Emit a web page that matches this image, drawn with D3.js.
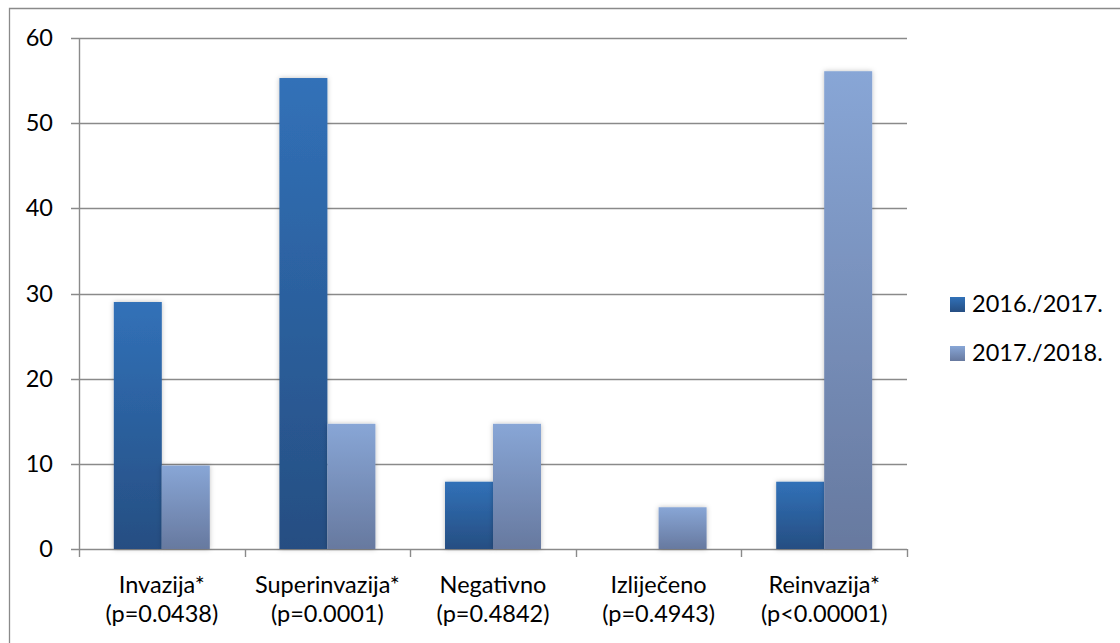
<!DOCTYPE html>
<html><head><meta charset="utf-8">
<script src="https://cdn.jsdelivr.net/npm/d3@7"></script>
<style>body{margin:0;background:#fff;} svg{display:block;font-family:Lato,"Open Sans",sans-serif;}</style>
</head><body>
<svg id="c" width="1120" height="643"></svg>
<script>
const categories = ["Invazija*", "Superinvazija*", "Negativno", "Izliječeno", "Reinvazija*"];
const pvalues = ["(p=0.0438)", "(p=0.0001)", "(p=0.4842)", "(p=0.4943)", "(p<0.00001)"];
const seriesNames = ["2016./2017.", "2017./2018."];
const s2016 = [29.0, 55.3, 7.9, 0, 7.9];
const s2017 = [9.8, 14.7, 14.7, 4.9, 56.1];
const yTicks = [0, 10, 20, 30, 40, 50, 60];

const svg = d3.select("#c");
const W = 1120, H = 643;
const m = {left: 79, right: 907, top: 38, bottom: 549};
const FS = 23.5;

// outer border
svg.append("path").attr("d", `M9.5,${H+2} V8.5 H${W+2}`).attr("fill","none").attr("stroke","#8a8a8a").attr("stroke-width",1.3);

const defs = svg.append("defs");
const grads = [["g0","#3171b8","#264e82"],["g1","#88a6d6","#67799f"]];
grads.forEach(([id,a,b])=>{
  const g = defs.append("linearGradient").attr("id",id).attr("x1",0).attr("y1",0).attr("x2",0).attr("y2",1);
  g.append("stop").attr("offset","0%").attr("stop-color",a);
  g.append("stop").attr("offset","100%").attr("stop-color",b);
});
const f = defs.append("filter").attr("id","sh").attr("x","-30%").attr("y","-10%").attr("width","160%").attr("height","120%");
f.append("feDropShadow").attr("dx",0).attr("dy",0).attr("stdDeviation",2.5).attr("flood-color","#000").attr("flood-opacity",0.25);

const x = d3.scaleBand().domain(categories).range([m.left, m.right]).paddingInner(0).paddingOuter(0);
const y = d3.scaleLinear().domain([0,60]).range([m.bottom, m.top]);
const xs = d3.scaleBand().domain([0,1]).range([0, x.bandwidth()]).paddingInner(0).paddingOuter(0.725);

// gridlines
svg.append("g").selectAll("line").data(yTicks).join("line")
  .attr("x1", m.left-8).attr("x2", m.right)
  .attr("y1", d=>Math.round(y(d))+0.5).attr("y2", d=>Math.round(y(d))+0.5)
  .attr("stroke","#8a8a8a").attr("stroke-width",1.4);

// y axis line
svg.append("line").attr("x1",m.left+0.5).attr("x2",m.left+0.5).attr("y1",m.top).attr("y2",m.bottom)
  .attr("stroke","#8a8a8a").attr("stroke-width",1.4);

// x ticks
const bounds = categories.map(c=>x(c)).concat([m.right]);
svg.append("g").selectAll("line").data(bounds).join("line")
  .attr("x1",d=>Math.round(d)+0.5).attr("x2",d=>Math.round(d)+0.5)
  .attr("y1",m.bottom).attr("y2",m.bottom+8).attr("stroke","#8a8a8a").attr("stroke-width",1.4);

// y labels
svg.append("g").selectAll("text").data(yTicks).join("text")
  .attr("x",53).attr("y",d=>y(d)+8).attr("text-anchor","end")
  .attr("font-size",FS).attr("fill","#000").text(d=>d);

// bars
const series = [s2016, s2017];
series.forEach((vals, si)=>{
  svg.append("g").attr("filter","url(#sh)").selectAll("rect").data(vals.map((v,i)=>({v,c:categories[i]})).filter(d=>d.v>0)).join("rect")
    .attr("x", d=>x(d.c)+xs(si)).attr("width", xs.bandwidth())
    .attr("y", d=>y(d.v)).attr("height", d=>y(0)-y(d.v))
    .attr("fill", `url(#g${si})`);
});

// x labels
const xl = svg.append("g").selectAll("g").data(categories).join("g")
  .attr("transform", d=>`translate(${x(d)+x.bandwidth()/2},0)`);
xl.append("text").attr("y",593).attr("text-anchor","middle").attr("font-size",FS).text(d=>d);
xl.append("text").attr("y",622).attr("text-anchor","middle").attr("font-size",FS).text((d,i)=>pvalues[i]);

// legend
const lg = svg.append("g").selectAll("g").data(seriesNames).join("g")
  .attr("transform",(d,i)=>`translate(950,${297+i*49})`);
lg.append("rect").attr("width",15).attr("height",15).attr("fill",(d,i)=>`url(#g${i})`);
lg.append("text").attr("x",22).attr("y",15).attr("font-size",FS).text(d=>d);
</script>
</body></html>
